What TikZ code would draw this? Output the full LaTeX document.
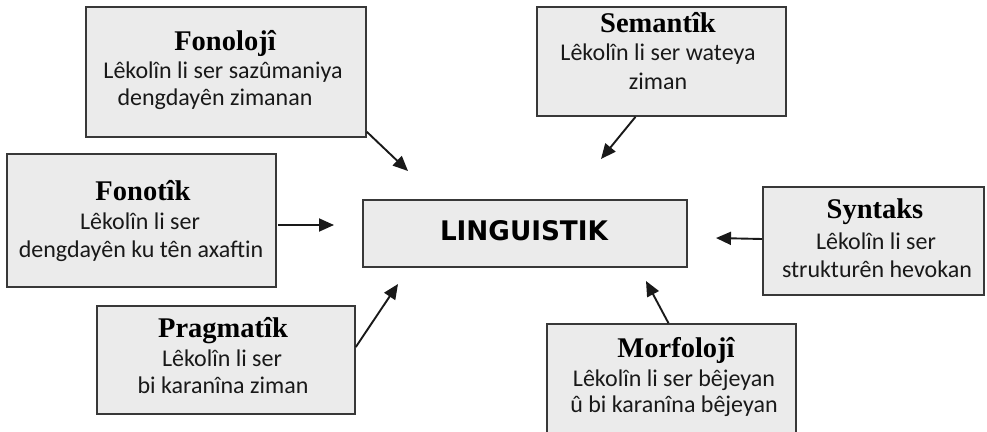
\documentclass[tikz,border=0pt]{standalone}
\usepackage{fontspec}
\newfontfamily\ttlfont{Liberation Serif}
\newfontfamily\bdyfont{Carlito}
\newfontfamily\lngfont{DejaVu Sans}
\usetikzlibrary{arrows.meta}
\begin{document}
\begin{tikzpicture}[x=1pt,y=-1pt,
  box/.style={draw=black!78, line width=1.6pt, fill=black!8, inner sep=0pt},
  ttl/.style={font=\ttlfont\bfseries\fontsize{28.5}{30}\selectfont, anchor=base, inner sep=0pt, text=black},
  bdy/.style={font=\bdyfont\fontsize{24}{28}\selectfont, anchor=base, inner sep=0pt, text=black!90},
  arr/.style={line width=1.9pt, draw=black!90, -{Triangle[length=15pt,width=13pt]}}]
\useasboundingbox (0,0) rectangle (987,431);
\clip (0,0) rectangle (987,431);

% boxes
\node[box, minimum width=280pt, minimum height=130pt] (fonoloji) at (226,72) {};
\node[box, minimum width=249pt, minimum height=109pt] (semantik) at (661.5,61.5) {};
\node[box, minimum width=269pt, minimum height=133pt] (fonotik) at (141.5,220.5) {};
\node[box, minimum width=324pt, minimum height=67pt] (ling) at (525,233.5) {};
\node[box, minimum width=221pt, minimum height=108pt] (syntaks) at (873.5,241) {};
\node[box, minimum width=258pt, minimum height=108pt] (pragmatik) at (226,360) {};
\node[box, minimum width=249pt, minimum height=120pt] (morfoloji) at (671.5,384) {};

% texts
\node[ttl] (t1) at (225,50) {Fonolojî};
\node[bdy] (t1a) at (223,78) {Lêkolîn li ser sazûmaniya};
\node[bdy] (t1b) at (215,105) {dengdayên zimanan};

\node[ttl] (t2) at (658,32) {Semantîk};
\node[bdy] (t2a) at (658,60) {Lêkolîn li ser wateya};
\node[bdy] (t2b) at (658,89) {ziman};

\node[ttl] (t3) at (143,200) {Fonotîk};
\node[bdy] (t3a) at (140,229) {Lêkolîn li ser};
\node[bdy] (t3b) at (141,257) {dengdayên ku tên axaftin};

\node[anchor=center, inner sep=0pt] (tl) at (524,231) {\resizebox{168pt}{20pt}{\lngfont\bfseries LINGUISTIK}};

\node[ttl] (t4) at (875,218) {Syntaks};
\node[bdy] (t4a) at (876,249) {Lêkolîn li ser};
\node[bdy] (t4b) at (877,277) {strukturên hevokan};

\node[ttl] (t5) at (223,337) {Pragmatîk};
\node[bdy] (t5a) at (222,366) {Lêkolîn li ser};
\node[bdy] (t5b) at (223,393) {bi karanîna ziman};

\node[ttl] (t6) at (676,357) {Morfolojî};
\node[bdy] (t6a) at (674,386) {Lêkolîn li ser bêjeyan};
\node[bdy] (t6b) at (674,412) {û bi karanîna bêjeyan};

% free ends
\coordinate (e1) at (408,171);
\coordinate (e2) at (601,159);
\coordinate (e3) at (334,225);
\coordinate (e4) at (716,238);
\coordinate (e5) at (398,284);
\coordinate (e6) at (646,281);

\draw[arr] ([yshift=6pt]fonoloji.south east) -- (e1);
\draw[arr] ([xshift=-26pt]semantik.south) -- (e2);
\draw[arr] ([yshift=-4.5pt,xshift=1pt]fonotik.east) -- (e3);
\draw[arr] ([yshift=2pt]syntaks.west) -- (e4);
\draw[arr] ([yshift=13pt]pragmatik.east) -- (e5);
\draw[arr] ([xshift=-3pt]morfoloji.north) -- (e6);
\end{tikzpicture}
\end{document}
